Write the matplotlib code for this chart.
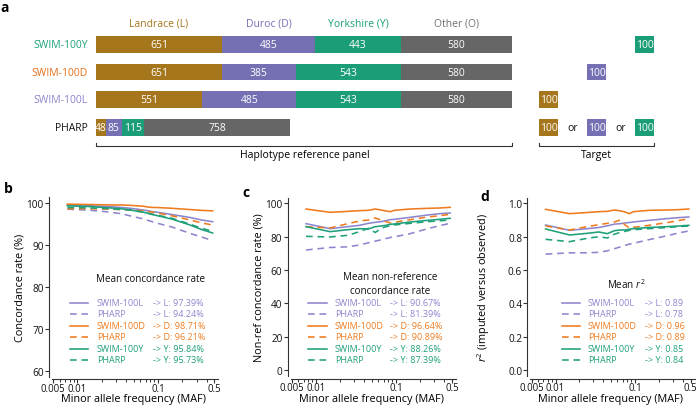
import matplotlib.pyplot as plt
from matplotlib.lines import Line2D
from matplotlib.ticker import FixedLocator, NullFormatter

plt.rcParams['font.family'] = 'Open Sans'
plt.rcParams['mathtext.fontset'] = 'custom'
plt.rcParams['mathtext.it'] = 'Open Sans:italic'
plt.rcParams['mathtext.rm'] = 'Open Sans'

# ---- panel a data ----
breeds = ['Landrace (L)', 'Duroc (D)', 'Yorkshire (Y)', 'Other (O)']
ref_panels = ['SWIM-100Y', 'SWIM-100D', 'SWIM-100L', 'PHARP']
panel_counts = [[651, 485, 443, 580],
                [651, 385, 543, 580],
                [551, 485, 543, 580],
                [48, 85, 115, 758]]
target_breeds = [['Y'], ['D'], ['L'], ['L', 'D', 'Y']]
target_size = 100

# ---- panels b-d data ----
maf = [0.0075, 0.015, 0.025, 0.035, 0.045, 0.055, 0.065, 0.075, 0.085, 0.095, 0.15, 0.25, 0.35, 0.475]

conc_swim_l = [99.6, 99.4, 99.2, 99.0, 98.8, 98.6, 98.4, 98.2, 98.0, 97.9, 97.3, 96.6, 96.0, 95.6]
conc_pharp_l = [98.6, 98.3, 97.9, 97.5, 97.0, 96.6, 96.3, 95.9, 95.6, 95.3, 94.3, 92.8, 91.9, 91.1]
conc_swim_d = [99.8, 99.7, 99.6, 99.6, 99.5, 99.4, 99.3, 99.1, 99.0, 99.0, 98.8, 98.5, 98.3, 98.2]
conc_pharp_d = [98.7, 98.7, 98.6, 98.5, 98.4, 98.3, 98.2, 98.0, 97.9, 97.7, 97.0, 96.0, 95.3, 94.8]
conc_swim_y = [99.4, 99.2, 98.9, 98.7, 98.4, 98.1, 97.9, 97.6, 97.3, 97.1, 96.2, 94.8, 93.7, 92.9]
conc_pharp_y = [99.0, 98.9, 98.7, 98.5, 98.4, 98.1, 97.9, 97.6, 97.4, 97.2, 96.4, 95.0, 94.0, 93.3]

nonref_swim_l = [87.8, 84.8, 86.0, 86.8, 88.0, 88.6, 89.0, 89.6, 90.2, 90.4, 91.6, 93.0, 93.8, 94.2]
nonref_pharp_l = [72.0, 73.5, 73.9, 75.0, 76.3, 77.3, 78.1, 78.9, 79.5, 79.9, 81.8, 84.8, 86.6, 88.0]
nonref_swim_d = [96.6, 94.6, 95.2, 95.6, 95.8, 96.6, 96.0, 95.4, 95.0, 95.8, 96.6, 97.0, 97.2, 97.6]
nonref_pharp_d = [86.0, 85.2, 87.8, 89.4, 90.0, 91.2, 90.0, 89.0, 88.2, 88.6, 90.2, 91.8, 92.6, 93.4]
nonref_swim_y = [86.0, 83.0, 84.2, 84.8, 84.6, 86.0, 86.4, 86.8, 87.4, 87.6, 88.8, 89.8, 90.4, 91.0]
nonref_pharp_y = [80.2, 79.8, 80.8, 83.0, 85.0, 82.5, 85.0, 86.0, 86.5, 87.0, 88.0, 89.0, 89.5, 90.0]

r2_swim_l = [0.870, 0.838, 0.848, 0.855, 0.865, 0.875, 0.878, 0.882, 0.885, 0.888, 0.898, 0.908, 0.914, 0.918]
r2_pharp_l = [0.695, 0.703, 0.703, 0.706, 0.715, 0.728, 0.738, 0.748, 0.755, 0.760, 0.782, 0.805, 0.822, 0.834]
r2_swim_d = [0.964, 0.938, 0.945, 0.950, 0.952, 0.960, 0.955, 0.948, 0.938, 0.950, 0.958, 0.960, 0.962, 0.966]
r2_pharp_d = [0.864, 0.840, 0.860, 0.872, 0.880, 0.888, 0.900, 0.870, 0.852, 0.856, 0.868, 0.884, 0.896, 0.908]
r2_swim_y = [0.846, 0.810, 0.820, 0.828, 0.818, 0.836, 0.840, 0.840, 0.845, 0.848, 0.855, 0.860, 0.864, 0.868]
r2_pharp_y = [0.784, 0.770, 0.790, 0.800, 0.792, 0.815, 0.825, 0.832, 0.838, 0.842, 0.848, 0.855, 0.860, 0.864]

conc_mean_swim = [97.39, 98.71, 95.84]
conc_mean_pharp = [94.24, 96.21, 95.73]
nonref_mean_swim = [90.67, 96.64, 88.26]
nonref_mean_pharp = [81.39, 90.89, 87.39]
r2_mean_swim = [0.89, 0.96, 0.85]
r2_mean_pharp = [0.78, 0.89, 0.84]

bar_colors = ['#A6761D', '#7570B3', '#1B9E77', '#666666']
line_colors = {'L': '#8C86CE', 'D': '#EF7B1F', 'Y': '#1FA07A'}
label_colors = ['#1FA07A', '#E8701A', '#8C86CE', '#111111']

W, H = 699, 410
fig = plt.figure(figsize=(W / 100, H / 100), dpi=100)


def fbox(left, top, right, bottom):
    return [left / W, 1 - bottom / H, (right - left) / W, (bottom - top) / H]


def fxy(x, y):
    return x / W, 1 - y / H


# ---------------- panel a ----------------
s = 0.1927  # px per haplotype
row_px = 27.7
ax = fig.add_axes([0, 1 - 165 / H, 1, 165 / H])
ax.set_xlim(-96.3 / s, (W - 96.3) / s)
ax.set_ylim((165 - 45.3) / row_px, -45.3 / row_px)
ax.axis('off')

for i, counts in enumerate(panel_counts):
    left = 0
    for j, c in enumerate(counts):
        ax.barh(i, c, left=left, height=0.6, color=bar_colors[j], linewidth=0)
        ax.text(left + c / 2, i, str(c), color='white', fontsize=7.5,
                ha='center', va='center')
        left += c
    ax.text(-45, i, ref_panels[i], color=label_colors[i], fontsize=7.5,
            ha='right', va='center')

left = 0
for j, c in enumerate(panel_counts[0]):
    ax.text(left + c / 2, -0.76, breeds[j], color=bar_colors[j] if j < 3 else '#707070',
            fontsize=7.5, ha='center', va='center')
    left += c

t0, tgap = 2297, 249
for i, tb in enumerate(target_breeds):
    for k, b in enumerate('LDY'):
        if b in tb:
            x0 = t0 + k * tgap
            ax.barh(i, target_size, left=x0, height=0.6, color=bar_colors[k], linewidth=0)
            ax.text(x0 + target_size / 2, i, str(target_size), color='white',
                    fontsize=7.5, ha='center', va='center')
    if len(tb) > 1:
        for k in range(2):
            ax.text(t0 + k * tgap + target_size + (tgap - target_size) / 2, i, 'or',
                    fontsize=7.5, ha='center', va='center', color='#111111')

total = sum(panel_counts[0])
for a, b, lab in [(0, total, 'Haplotype reference panel'),
                  (t0, t0 + 2 * tgap + target_size, 'Target')]:
    ax.plot([a, a, b, b], [3.57, 3.66, 3.66, 3.57], color='#333333', lw=0.8)
    ax.text((a + b) / 2, 3.97, lab, fontsize=7.5, ha='center', va='center')

fig.text(*fxy(0, 1), 'a', fontsize=10, fontweight='bold', ha='left', va='top')

# ---------------- panels b-d ----------------
minor = [0.006, 0.007, 0.008, 0.009, 0.02, 0.03, 0.04, 0.05, 0.06, 0.07, 0.08, 0.09,
         0.2, 0.3, 0.4]

panels = [
    dict(box=fbox(51.8, 198.0, 218.4, 377.6), ylim=(58.6, 101.5), yticks=[60, 70, 80, 90, 100],
         yfmt='{:.0f}', ylabel='Concordance rate (%)', ylx=20, letter='b', lxy=(4, 189),
         series=[conc_swim_l, conc_pharp_l, conc_swim_d, conc_pharp_d, conc_swim_y, conc_pharp_y],
         means=(conc_mean_swim, conc_mean_pharp), mfmt='{:.2f}%',
         title=['Mean concordance rate'], tx=151, ty=279,
         leg_line=(70, 88), leg_name=97, leg_arrow=153),
    dict(box=fbox(290.5, 198.5, 455.9, 376.8), ylim=(-3.5, 103.5), yticks=[0, 20, 40, 60, 80, 100],
         yfmt='{:.0f}', ylabel='Non-ref concordance rate (%)', ylx=259, letter='c', lxy=(242, 193),
         series=[nonref_swim_l, nonref_pharp_l, nonref_swim_d, nonref_pharp_d, nonref_swim_y,
                 nonref_pharp_y],
         means=(nonref_mean_swim, nonref_mean_pharp), mfmt='{:.2f}%',
         title=['Mean non-reference', 'concordance rate'], tx=390, ty=278,
         leg_line=(308, 327), leg_name=335, leg_arrow=390),
    dict(box=fbox(530.2, 198.5, 694.5, 376.8), ylim=(-0.035, 1.035),
         yticks=[0.0, 0.2, 0.4, 0.6, 0.8, 1.0],
         yfmt='{:.1f}', ylabel='$r^2$ (imputed versus observed)', ylx=484, letter='d',
         lxy=(480, 197),
         series=[r2_swim_l, r2_pharp_l, r2_swim_d, r2_pharp_d, r2_swim_y, r2_pharp_y],
         means=(r2_mean_swim, r2_mean_pharp), mfmt='{:.2f}',
         title=['Mean $r^2$'], tx=626, ty=285,
         leg_line=(562, 580), leg_name=588, leg_arrow=645),
]

spine_col = '#333333'
dash = (0, (4.2, 3.0))
for p in panels:
    ax = fig.add_axes(p['box'])
    ax.set_xscale('log')
    ax.set_xlim(0.0048, 0.56)
    ax.set_ylim(*p['ylim'])
    for sp in ['top', 'right']:
        ax.spines[sp].set_visible(False)
    for sp in ['left', 'bottom']:
        ax.spines[sp].set_position(('outward', 2))
        ax.spines[sp].set_color(spine_col)
        ax.spines[sp].set_linewidth(0.8)
    ax.xaxis.set_major_locator(FixedLocator([0.005, 0.01, 0.1, 0.5]))
    ax.xaxis.set_minor_locator(FixedLocator(minor))
    ax.xaxis.set_minor_formatter(NullFormatter())
    ax.set_xticklabels(['0.005', '0.01', '0.1', '0.5'])
    ax.set_yticks(p['yticks'])
    ax.set_yticklabels([p['yfmt'].format(v) for v in p['yticks']])
    ax.tick_params(which='major', length=2.6, width=0.8, color=spine_col, labelsize=7.2,
                   pad=1.2, labelcolor='#111111')
    ax.tick_params(axis='x', which='major', pad=0.2, labelsize=6.9)
    ax.tick_params(which='minor', length=2.3, width=0.7, color=spine_col)
    ax.patch.set_visible(False)

    styles = []
    for b in 'LDY':
        styles.append((line_colors[b], '-'))
        styles.append((line_colors[b], dash))
    for ys, (c, ls) in zip(p['series'], styles):
        ax.plot(maf, ys, color=c, linestyle=ls, lw=1.15)

    bx = p['box']
    cx = (bx[0] + bx[2] / 2) * W
    fig.text(*fxy(cx - 2, 400), 'Minor allele frequency (MAF)', fontsize=7.8,
             ha='center', va='center')
    fig.text(*fxy(p['ylx'], 288), p['ylabel'], fontsize=7.8, rotation=90,
             ha='center', va='center')
    fig.text(*fxy(*p['lxy']), p['letter'], fontsize=10, fontweight='bold',
             ha='left', va='center')

    for k, line in enumerate(p['title']):
        fig.text(*fxy(p['tx'], p['ty'] + 13.5 * k), line, fontsize=7.1,
                 ha='center', va='center', color='#111111')

    ms, mp = p['means']
    for k, b in enumerate('LDY'):
        for m, (name, val) in enumerate([('SWIM-100' + b, ms[k]), ('PHARP', mp[k])]):
            y = 303.5 + 11.5 * (2 * k + m)
            c = line_colors[b]
            x1, x2 = p['leg_line']
            fx1, fy = fxy(x1, y)
            fx2, _ = fxy(x2, y)
            fig.add_artist(Line2D([fx1, fx2], [fy, fy], color=c, lw=1.15,
                                  linestyle='-' if m == 0 else dash,
                                  transform=fig.transFigure))
            fig.text(*fxy(p['leg_name'], y), name, fontsize=6.5, color=c,
                     ha='left', va='center')
            fig.text(*fxy(p['leg_arrow'], y), '-> ' + b + ': ' + p['mfmt'].format(val),
                     fontsize=6.5, color=c, ha='left', va='center')

fig.savefig('out.png', dpi=100)
